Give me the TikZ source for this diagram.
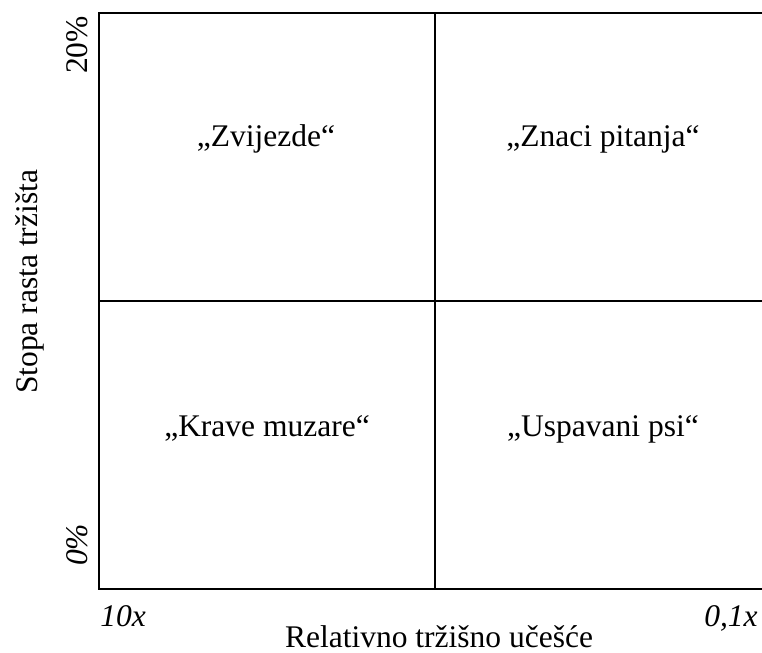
\documentclass[tikz,border=0pt]{standalone}
\usepackage{fontspec}
\setmainfont{Liberation Serif}
\usetikzlibrary{positioning}
\tikzset{
    % Base label style
    baselabel/.style={
        inner sep=0pt,
        anchor=base,
        align=center,
        font=\fontsize{15.75}{18}\selectfont
    },
    % Quadrant label
    quadlabel/.style={
        baselabel
    },
    % Axis title
    axistitle/.style={
        baselabel
    },
    % Axis tick value
    tickvalue/.style={
        baselabel,
        font=\fontsize{15.75}{18}\selectfont\itshape
    },
    % Grid lines
    gridline/.style={
        line width=1.3pt,
        draw=black
    }
}
\begin{document}
\begin{tikzpicture}[x=0.5pt, y=0.5pt]
                \useasboundingbox (0,0) rectangle (762,653);

                % Matrix frame
                \coordinate (sw) at (99,64);
                \coordinate (ne) at (771,640);
                \coordinate (midx) at (435,64);
                \coordinate (midy) at (99,352);
                \draw[gridline] (sw) rectangle (ne);
                \draw[gridline] (midx) -- (midx |- ne);
                \draw[gridline] (midy) -- (midy -| ne);

                % Quadrants
                \node[quadlabel] (stars) at (266,506) {„Zvijezde“};
                \node[quadlabel] (question) at (603,506) {„Znaci pitanja“};
                \node[quadlabel] (cows) at (267,216) {„Krave muzare“};
                \node[quadlabel] (dogs) at (603,216) {„Uspavani psi“};

                % Vertical axis
                \node[axistitle, rotate=90] (ytitle) at (38,371) {Stopa rasta tržišta};
                \node[baselabel, rotate=90] (ytop) at (88,608) {20\%};
                \node[tickvalue, rotate=90] (ybottom) at (87,108) {0\%};

                % Horizontal axis
                \node[tickvalue] (xleft) at (123,26) {10x};
                \node[tickvalue] (xright) at (731,26) {0,1x};
                \node[axistitle] (xtitle) at (439,5) {Relativno tržišno učešće};
\end{tikzpicture}
\end{document}
